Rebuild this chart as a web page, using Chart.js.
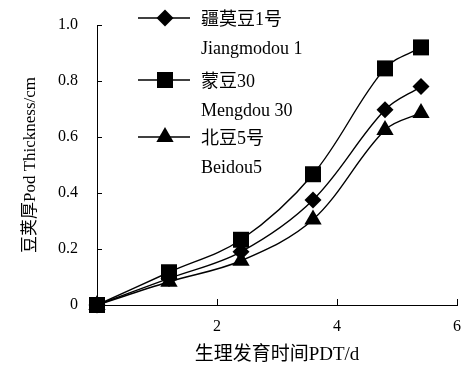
<!DOCTYPE html>
<html>
<head>
<meta charset="utf-8">
<script src="https://cdn.jsdelivr.net/npm/chart.js@4/dist/chart.umd.min.js"></script>
<style>
  html, body { margin: 0; padding: 0; background: #fff; }
  #wrap { width: 465px; height: 367px; position: relative; }
</style>
</head>
<body>
<div id="wrap"><canvas id="c" width="465" height="367"></canvas></div>
<script>
// ---- data ----
const pdt = [0, 1.2, 2.4, 3.6, 4.8, 5.4];
const jiangmodou1 = [0, 0.095, 0.19, 0.375, 0.697, 0.78];
const mengdou30 = [0, 0.117, 0.233, 0.467, 0.845, 0.92];
const beidou5 = [0, 0.083, 0.158, 0.305, 0.625, 0.686];
const cnNames = ['疆莫豆1号', '蒙豆30', '北豆5号'];
const enNames = ['Jiangmodou 1', 'Mengdou 30', 'Beidou5'];
const xTicks = [0, 2, 4, 6];
const yTicks = [0, 0.2, 0.4, 0.6, 0.8, 1.0];
const xTitle = '生理发育时间PDT/d';
const yTitle = '豆荚厚Pod Thickness/cm';

const FONT = "'Liberation Serif', 'Times New Roman', 'Noto Sans CJK SC', serif";
const seriesValues = [jiangmodou1, mengdou30, beidou5];
const styles = [
  { pointStyle: 'rectRot', radius: 8.5 },
  { pointStyle: 'rect', radius: 11.3 },
  { pointStyle: 'triangle', radius: 10 }
];

const datasets = seriesValues.map((vals, i) => ({
  label: cnNames[i] + ' ' + enNames[i],
  data: pdt.map((x, j) => ({ x: x, y: vals[j] })),
  borderColor: '#000',
  backgroundColor: '#000',
  borderWidth: 1.4,
  pointStyle: styles[i].pointStyle,
  pointRadius: styles[i].radius,
  pointHoverRadius: styles[i].radius,
  pointBackgroundColor: '#000',
  pointBorderColor: '#000',
  pointBorderWidth: 0,
  tension: 0.35,
  fill: false,
  clip: false
}));

function drawMarker(ctx, style, r, x, y) {
  ctx.beginPath();
  if (style === 'rect') {
    const s = r * Math.SQRT1_2;
    ctx.rect(x - s, y - s, 2 * s, 2 * s);
  } else if (style === 'rectRot') {
    ctx.moveTo(x, y - r); ctx.lineTo(x + r, y); ctx.lineTo(x, y + r); ctx.lineTo(x - r, y);
    ctx.closePath();
  } else {
    const a = 2 * Math.PI / 3;
    ctx.moveTo(x, y - r);
    ctx.lineTo(x + Math.sin(a) * r, y - Math.cos(a) * r);
    ctx.lineTo(x + Math.sin(2 * a) * r, y - Math.cos(2 * a) * r);
    ctx.closePath();
  }
  ctx.fill();
}

const decor = {
  id: 'decor',
  afterDraw(chart) {
    const ctx = chart.ctx;
    const xs = chart.scales.x, ys = chart.scales.y;
    const area = chart.chartArea;
    ctx.save();
    ctx.strokeStyle = '#000';
    ctx.lineWidth = 1;
    // inward tick marks
    yTicks.forEach(v => {
      if (v === 0) return;
      const py = Math.round(ys.getPixelForValue(v)) + 0.5;
      ctx.beginPath(); ctx.moveTo(area.left, py); ctx.lineTo(area.left + 5, py); ctx.stroke();
    });
    xTicks.forEach(v => {
      if (v === 0) return;
      const px = Math.round(xs.getPixelForValue(v)) + 0.5;
      ctx.beginPath(); ctx.moveTo(px, area.bottom); ctx.lineTo(px, area.bottom - 6); ctx.stroke();
    });
    // legend
    const lx1 = 138, lx2 = 190, mx = 165, tx = 201;
    const rowY = [18, 80, 137];
    ctx.fillStyle = '#000';
    ctx.lineWidth = 1.4;
    ctx.font = "18px " + FONT;
    ctx.textBaseline = 'middle';
    ctx.textAlign = 'left';
    cnNames.forEach((n, i) => {
      const y = rowY[i];
      ctx.beginPath(); ctx.moveTo(lx1, y); ctx.lineTo(lx2, y); ctx.stroke();
      drawMarker(ctx, styles[i].pointStyle, styles[i].radius, mx, y);
      ctx.fillText(n, tx, y + 2);
      ctx.fillText(enNames[i], tx, y + 31);
    });
    ctx.restore();
  }
};

new Chart(document.getElementById('c'), {
  type: 'line',
  data: { datasets },
  options: {
    responsive: false,
    animation: false,
    events: [],
    layout: { autoPadding: false, padding: { top: 25, right: 8, left: 0, bottom: 0 } },
    plugins: { legend: { display: false }, tooltip: { enabled: false } },
    scales: {
      x: {
        type: 'linear', min: 0, max: 6,
        afterFit(s) { s.height = 62; s.paddingLeft = 0; s.paddingRight = 0; },
        afterBuildTicks(s) { s.ticks = xTicks.map(v => ({ value: v })); },
        grid: { display: false, drawTicks: false },
        border: { display: true, color: '#000', width: 1 },
        ticks: {
          color: '#000', padding: 12, maxRotation: 0,
          font: { family: FONT, size: 16 },
          callback: v => (v === 0 ? '' : String(v))
        },
        title: {
          display: true, text: xTitle, color: '#000',
          font: { family: FONT, size: 19 },
          padding: { top: 0, bottom: 1 }
        }
      },
      y: {
        type: 'linear', min: 0, max: 1,
        afterFit(s) { s.width = 97; s.paddingTop = 0; s.paddingBottom = 0; },
        afterBuildTicks(s) { s.ticks = yTicks.map(v => ({ value: v })); },
        grid: { display: false, drawTicks: false },
        border: { display: true, color: '#000', width: 1 },
        ticks: {
          color: '#000', padding: 19,
          font: { family: FONT, size: 16 },
          callback: v => (v === 0 ? '0' : Number(v).toFixed(1))
        },
        title: {
          display: true, text: yTitle, color: '#000',
          font: { family: FONT, size: 17 },
          padding: { top: 20, bottom: 0 }
        }
      }
    }
  },
  plugins: [decor]
});
</script>
</body>
</html>
